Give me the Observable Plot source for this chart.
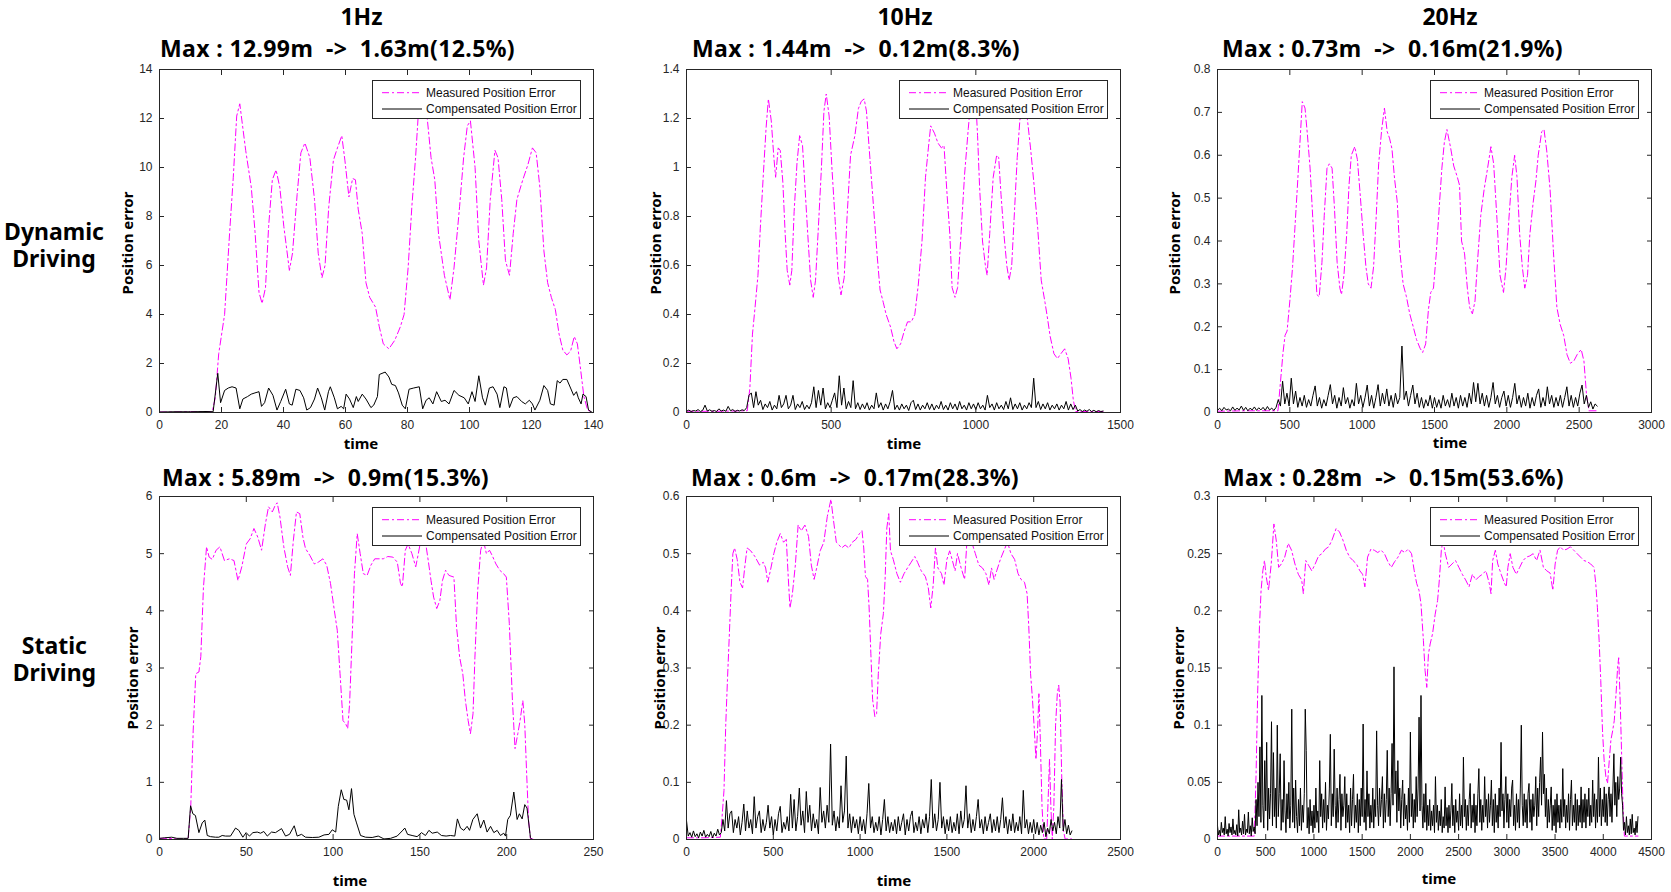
<!DOCTYPE html>
<html><head><meta charset="utf-8">
<script src="https://cdn.jsdelivr.net/npm/d3@7"></script>
<script src="https://cdn.jsdelivr.net/npm/@observablehq/plot@0.6"></script>
<style>
html,body{margin:0;padding:0;background:#fff;}
#root{position:relative;width:1671px;height:892px;overflow:hidden;background:#fff;}
.abs{position:absolute;white-space:pre;line-height:1;}
.big{font-family:"Noto Sans",sans-serif;font-weight:700;font-size:23px;color:#000;}
.rowlab{font-family:"Noto Sans",sans-serif;font-weight:700;font-size:23px;color:#000;line-height:26.6px;text-align:center;}
.axl{font-family:"Noto Sans",sans-serif;font-weight:700;font-size:15px;color:#000;}
.legend{border:1px solid #262626;background:#fff;width:207px;height:37px;}
.lt{position:absolute;left:53px;transform:translateY(-50%);font-family:"Liberation Sans",Arial,sans-serif;font-size:12px;line-height:1;white-space:nowrap;color:#111;}
</style></head>
<body><div id="root"></div>
<script>
// ---------- text ----------
const freqTitles = ["1Hz", "10Hz", "20Hz"];
const rowLabels = ["Dynamic\nDriving", "Static\nDriving"];
const maxTitles = [
  ["Max : 12.99m  ->  1.63m(12.5%)", "Max : 1.44m  ->  0.12m(8.3%)", "Max : 0.73m  ->  0.16m(21.9%)"],
  ["Max : 5.89m  ->  0.9m(15.3%)", "Max : 0.6m  ->  0.17m(28.3%)", "Max : 0.28m  ->  0.15m(53.6%)"]
];
const seriesNames = ["Measured Position Error", "Compensated Position Error"];
const yLabel = "Position error";
const xLabel = "time";

// ---------- ticks ----------
const xTicksDyn1 = [0, 20, 40, 60, 80, 100, 120, 140];
const yTicksDyn1 = [0, 2, 4, 6, 8, 10, 12, 14];
const xTicksDyn10 = [0, 500, 1000, 1500];
const yTicksDyn10 = [0, 0.2, 0.4, 0.6, 0.8, 1, 1.2, 1.4];
const xTicksDyn20 = [0, 500, 1000, 1500, 2000, 2500, 3000];
const yTicksDyn20 = [0, 0.1, 0.2, 0.3, 0.4, 0.5, 0.6, 0.7, 0.8];
const xTicksSta1 = [0, 50, 100, 150, 200, 250];
const yTicksSta1 = [0, 1, 2, 3, 4, 5, 6];
const xTicksSta10 = [0, 500, 1000, 1500, 2000, 2500];
const yTicksSta10 = [0, 0.1, 0.2, 0.3, 0.4, 0.5, 0.6];
const xTicksSta20 = [0, 500, 1000, 1500, 2000, 2500, 3000, 3500, 4000, 4500];
const yTicksSta20 = [0, 0.05, 0.1, 0.15, 0.2, 0.25, 0.3];

// ---------- data: [time, error] ----------
const dyn1Measured = [[0,0.02],[5,0.02],[10,0.03],[17,0.03],[18,0.6],[19.1,2.4],[21,4.0],[22.6,7.3],[23.8,9.6],[24.9,12.1],[25.9,12.6],[27.8,10.7],[29.6,9.2],[30.8,7.4],[32.1,4.9],[33.1,4.45],[34.2,5.1],[35.2,7.6],[36.4,9.5],[37.6,9.9],[38.8,9.2],[40.1,7.6],[41.9,5.8],[42.9,6.5],[44.4,8.9],[45.6,10.6],[46.9,11.0],[48.5,10.4],[50,8.7],[51.2,6.5],[52.4,5.5],[53.4,6.0],[54.6,8.4],[56.1,10.3],[57.4,10.8],[58.8,11.3],[59.8,10.3],[61.1,8.8],[62.3,9.55],[63.2,9.5],[64.1,8.3],[65.4,7.3],[66.6,5.3],[67.8,4.7],[69.7,4.3],[70.9,3.5],[72.2,2.8],[74,2.6],[75.9,2.95],[77.7,3.5],[78.9,4.0],[80.2,5.9],[81.4,8.4],[82.6,10.4],[83.5,12.2],[84.8,12.99],[86.3,12.1],[87.6,10.4],[88.8,9.5],[90,7.3],[91.9,5.6],[93.7,4.6],[95,5.9],[96.8,8.4],[98.1,10.4],[99.3,11.7],[100.3,11.9],[101.8,10.0],[103,7.0],[104.5,5.2],[105.5,5.9],[106.7,8.7],[108.2,10.7],[109.2,10.4],[110.4,8.7],[111.6,6.2],[112.9,5.6],[114.1,7.3],[115.3,8.7],[117.2,9.5],[118.8,10.1],[120.3,10.8],[121.5,10.6],[122.7,9.2],[124,6.6],[125.2,5.3],[126.4,4.7],[127.7,4.2],[128.9,3.2],[130.1,2.55],[131.4,2.35],[132.6,2.5],[133.8,3.1],[134.8,2.8],[135.7,1.9],[136.9,0.65],[138.1,0.1],[139.4,0.02]];
const dyn1Compensated = [[0,0.02],[5,0.03],[10,0.03],[15,0.04],[17.3,0.03],[18.8,1.6],[19.7,0.4],[21,0.9],[22.2,1.0],[23.4,1.05],[24.7,1.0],[25.9,0.15],[26.9,0.55],[28.4,0.65],[29.6,0.75],[30.8,0.8],[32.1,0.85],[32.9,0.25],[33.9,0.4],[35.2,1.0],[36.6,0.7],[37.9,0.1],[39.1,0.45],[40.7,0.95],[41.9,0.35],[42.8,0.3],[44,0.95],[45.3,0.9],[46.5,0.6],[47.5,0.1],[48.7,0.2],[50,0.55],[51,1.0],[52.2,0.6],[53.3,0.1],[54.5,0.85],[55.1,1.05],[56.4,0.6],[57.4,0.15],[58.6,0.25],[59.4,0.15],[60.2,0.75],[61.3,0.55],[62.5,0.2],[63.5,0.65],[64.1,0.45],[65.4,0.75],[66.6,0.55],[68.2,0.2],[69.1,0.3],[70.3,0.65],[70.9,1.55],[72.8,1.65],[74,1.45],[74.9,1.15],[76.1,1.1],[77.1,0.8],[78.3,0.3],[79.3,0.15],[80.5,0.95],[82,1.0],[83.8,1.05],[84.9,0.15],[86,0.5],[87,0.6],[88.2,0.35],[89.4,0.85],[90.9,0.45],[92.1,0.5],[93.4,0.35],[95,0.9],[96.6,0.7],[98.3,0.6],[99.6,0.35],[100.8,0.85],[101.8,0.45],[103,1.5],[104.2,0.6],[105.1,0.3],[106.4,1.0],[107.6,1.05],[108.9,0.75],[109.8,0.2],[111.1,1.05],[111.9,1.0],[112.9,0.2],[114.1,0.6],[115.3,0.65],[116.8,0.45],[118,0.35],[119.3,0.5],[120.3,0.35],[121.1,0.1],[122.7,0.5],[124,1.1],[125.2,0.9],[126.1,0.35],[127.3,0.3],[128.3,1.3],[129.2,1.2],[130.1,1.35],[131.4,1.35],[132.6,1.0],[133.6,0.7],[134.5,0.85],[135.1,0.6],[136,0.35],[136.6,0.75],[137.6,0.65],[138.4,0.1],[139.4,0.02]];

const dyn10Measured = [[0,0.005],[100,0.005],[210,0.007],[219,0.1],[228,0.32],[237,0.43],[247,0.56],[255,0.75],[265,0.96],[275,1.16],[283,1.28],[293,1.19],[302,1.04],[308,0.96],[317,1.08],[324,1.07],[333,0.94],[341,0.73],[348,0.58],[357,0.52],[364,0.58],[372,0.82],[382,1.02],[391,1.13],[401,1.09],[409,0.93],[419,0.73],[429,0.54],[438,0.47],[446,0.54],[456,0.76],[466,0.99],[475,1.23],[483,1.3],[493,1.21],[503,0.99],[514,0.78],[524,0.56],[534,0.48],[545,0.55],[555,0.8],[567,1.05],[582,1.13],[594,1.24],[604,1.27],[614,1.28],[622,1.23],[635,1.02],[647,0.83],[659,0.64],[669,0.5],[680,0.45],[690,0.4],[705,0.35],[717,0.29],[727,0.26],[740,0.28],[752,0.33],[764,0.37],[777,0.37],[789,0.4],[801,0.52],[814,0.7],[826,0.96],[836,1.08],[844,1.17],[857,1.14],[869,1.1],[881,1.08],[890,1.09],[900,0.9],[910,0.73],[918,0.51],[928,0.47],[937,0.51],[949,0.73],[961,0.97],[974,1.16],[983,1.28],[992,1.33],[1000,1.27],[1006,1.13],[1013,0.92],[1023,0.7],[1033,0.6],[1039,0.56],[1048,0.73],[1060,0.96],[1072,1.05],[1079,1.04],[1087,0.89],[1097,0.73],[1107,0.6],[1115,0.54],[1124,0.6],[1134,0.83],[1143,1.04],[1152,1.19],[1165,1.31],[1177,1.21],[1189,1.08],[1202,0.92],[1214,0.75],[1226,0.54],[1239,0.45],[1247,0.39],[1257,0.31],[1270,0.24],[1282,0.22],[1294,0.24],[1307,0.26],[1319,0.22],[1329,0.14],[1337,0.05],[1345,0.004],[1440,0.004]];
const dyn10CompStep = 8;
const dyn10Compensated = [
0.005,0.01,0.004,0.008,0.006,0.012,0.004,0.009,0.03,0.006,0.011,0.005,0.008,0.004,0.015,0.006,0.01,0.005,0.025,0.007,0.012,0.004,0.009,0.006,0.011,
0.008,0.02,0.07,0.08,0.02,0.085,0.03,0.05,0.012,0.035,0.02,0.045,0.01,0.03,0.015,0.07,0.02,0.035,0.07,0.015,0.03,0.07,0.012,0.035,0.02,
0.045,0.012,0.03,0.015,0.04,0.105,0.02,0.09,0.03,0.1,0.015,0.04,0.02,0.05,0.08,0.02,0.15,0.03,0.1,0.015,0.045,0.02,0.13,0.015,0.04,
0.012,0.035,0.015,0.04,0.01,0.03,0.015,0.08,0.02,0.04,0.01,0.035,0.015,0.045,0.09,0.012,0.03,0.01,0.035,0.015,0.03,0.008,0.04,0.05,0.012,
0.035,0.01,0.03,0.015,0.04,0.012,0.035,0.01,0.03,0.015,0.045,0.012,0.03,0.01,0.04,0.015,0.035,0.01,0.045,0.015,0.03,0.01,0.04,0.015,0.035,
0.012,0.04,0.015,0.03,0.01,0.07,0.02,0.035,0.01,0.04,0.015,0.03,0.012,0.045,0.015,0.06,0.012,0.035,0.015,0.04,0.01,0.03,0.015,0.04,0.02,
0.14,0.02,0.045,0.012,0.035,0.015,0.04,0.01,0.03,0.015,0.035,0.01,0.03,0.015,0.045,0.01,0.035,0.012,0.03,0.006,0.012,0.004,0.01,0.005,0.012,
0.004,0.009,0.003,0.008,0.004,0.006];

const dyn20Measured = [[0,0.003],[200,0.004],[418,0.004],[435,0.07],[453,0.14],[467,0.18],[481,0.19],[500,0.26],[519,0.34],[535,0.43],[551,0.52],[570,0.63],[586,0.725],[605,0.71],[621,0.65],[640,0.57],[659,0.45],[675,0.35],[687,0.275],[703,0.27],[722,0.35],[738,0.46],[757,0.57],[773,0.58],[792,0.57],[808,0.48],[827,0.35],[846,0.29],[857,0.275],[874,0.32],[893,0.415],[909,0.53],[925,0.6],[949,0.62],[967,0.59],[986,0.51],[1007,0.415],[1026,0.34],[1042,0.3],[1061,0.29],[1079,0.34],[1096,0.45],[1114,0.58],[1135,0.66],[1154,0.71],[1173,0.655],[1189,0.64],[1206,0.615],[1224,0.545],[1243,0.49],[1259,0.38],[1283,0.3],[1306,0.27],[1329,0.23],[1353,0.2],[1376,0.17],[1400,0.15],[1418,0.14],[1439,0.16],[1458,0.24],[1474,0.28],[1493,0.29],[1512,0.37],[1533,0.48],[1551,0.57],[1568,0.63],[1586,0.66],[1610,0.62],[1633,0.575],[1657,0.55],[1673,0.53],[1687,0.4],[1708,0.37],[1727,0.29],[1743,0.245],[1762,0.23],[1780,0.26],[1797,0.35],[1820,0.46],[1843,0.52],[1867,0.57],[1890,0.62],[1909,0.58],[1932,0.45],[1953,0.32],[1977,0.28],[1995,0.34],[2014,0.45],[2035,0.55],[2054,0.6],[2070,0.55],[2089,0.415],[2107,0.34],[2124,0.29],[2143,0.32],[2159,0.415],[2182,0.49],[2201,0.54],[2217,0.6],[2241,0.655],[2257,0.66],[2276,0.61],[2299,0.52],[2322,0.375],[2346,0.245],[2369,0.205],[2393,0.18],[2416,0.135],[2439,0.115],[2463,0.12],[2486,0.135],[2514,0.147],[2533,0.12],[2551,0.04],[2568,0.004],[2630,0.004]];
const dyn20CompStep = 15;
const dyn20Compensated = [
0.005,0.01,0.004,0.012,0.006,0.008,0.004,0.013,0.005,0.01,0.006,0.015,0.005,0.012,0.004,0.01,0.006,0.013,0.005,0.011,
0.006,0.012,0.005,0.014,0.006,0.01,0.005,0.012,0.03,0.015,0.073,0.02,0.045,0.015,0.08,0.02,0.05,0.012,0.035,0.015,
0.04,0.012,0.03,0.015,0.04,0.062,0.015,0.035,0.01,0.03,0.015,0.04,0.065,0.02,0.04,0.01,0.035,0.015,0.058,0.02,
0.035,0.01,0.03,0.015,0.068,0.02,0.04,0.012,0.035,0.064,0.015,0.04,0.01,0.035,0.065,0.015,0.045,0.02,0.055,0.015,
0.04,0.012,0.045,0.02,0.035,0.155,0.03,0.05,0.015,0.04,0.064,0.02,0.045,0.012,0.035,0.01,0.03,0.015,0.04,0.01,
0.035,0.012,0.03,0.01,0.04,0.015,0.03,0.012,0.045,0.015,0.035,0.01,0.04,0.015,0.035,0.012,0.045,0.02,0.07,0.025,
0.068,0.02,0.045,0.015,0.04,0.012,0.035,0.07,0.02,0.04,0.012,0.035,0.05,0.015,0.04,0.012,0.035,0.068,0.02,0.04,
0.012,0.035,0.015,0.045,0.01,0.035,0.015,0.04,0.055,0.012,0.035,0.015,0.06,0.02,0.04,0.012,0.035,0.015,0.04,0.012,
0.035,0.06,0.015,0.04,0.012,0.035,0.015,0.045,0.064,0.02,0.04,0.012,0.025,0.008,0.02,0.015];

const sta1Measured = [[0,0.02],[5,0.02],[10,0.01],[16.5,0.01],[18,0.57],[19.4,1.9],[20.9,2.9],[22.7,2.93],[23.8,3.2],[25.3,4.4],[27.1,5.12],[28.6,4.94],[30.4,4.9],[32.6,5.06],[34.8,5.12],[37.4,4.88],[40.3,4.91],[42.9,4.88],[45.2,4.53],[47.4,4.77],[50,5.17],[52.2,5.26],[54.4,5.44],[56.6,5.29],[58.8,5.06],[61,5.52],[62.8,5.82],[65,5.73],[66.7,5.85],[67.8,5.89],[69.4,5.64],[71.6,5.12],[73.8,4.77],[75.4,4.62],[77.1,5.23],[78.9,5.73],[80.8,5.7],[82.6,5.29],[84.1,5.09],[86.6,4.97],[89.2,4.82],[91.4,4.85],[94.1,4.91],[96.3,4.8],[98.5,4.48],[100.7,4.01],[102.4,3.66],[104,2.9],[105.7,2.08],[107.3,2.02],[108.4,1.94],[109.5,2.37],[111.2,3.72],[112.3,4.65],[113.9,5.35],[115.6,5.0],[117.4,4.65],[119.6,4.62],[121.8,4.8],[124,4.91],[126.7,4.91],[128.9,4.91],[131.5,4.95],[134.4,4.94],[137,4.85],[138.8,4.48],[139.9,4.42],[141.6,5.06],[143.2,5.17],[145.4,5.0],[147.6,4.77],[149.1,5.0],[150.9,5.3],[153.1,5.23],[154.8,4.88],[156.4,4.53],[157.9,4.24],[159.7,4.04],[161.5,4.18],[163,4.53],[164.8,4.71],[166.7,4.62],[169.6,4.59],[171.1,3.72],[172.9,3.19],[174.7,2.9],[176.2,2.43],[177.8,2.08],[179.1,1.85],[180.6,2.2],[181.7,3.19],[183.3,4.36],[185,5.06],[186.6,5.23],[188.3,5.0],[190.1,5.06],[191.6,4.97],[193.8,4.82],[196,4.71],[198.2,4.65],[199.8,4.59],[201.5,3.78],[203.3,2.43],[204.8,1.59],[206.4,1.85],[207.7,2.08],[209.3,2.43],[210.4,2.02],[211.5,1.15],[212.6,0.33],[213.7,0.01],[215,0.01]];
const sta1Compensated = [[0,0.02],[3,0.03],[7,0.04],[10,0.02],[14,0.02],[16.5,0.02],[17.9,0.59],[19.2,0.45],[20.7,0.42],[22.7,0.12],[24.6,0.29],[26.1,0.34],[27.5,0.07],[29.4,0.05],[32.3,0.04],[34.2,0.04],[36.1,0.07],[38,0.06],[40.9,0.06],[43.8,0.2],[45.7,0.16],[48,0.04],[49.9,0.12],[51.8,0.06],[53.8,0.12],[56.3,0.13],[58.2,0.11],[60.1,0.14],[62.1,0.06],[64.5,0.13],[66.8,0.12],[70.3,0.19],[72.6,0.06],[74.9,0.09],[77.6,0.24],[79.3,0.06],[81.8,0.09],[84.1,0.04],[88,0.035],[91.8,0.04],[94.8,0.08],[97.6,0.09],[99.5,0.17],[101.5,0.13],[103,0.58],[104.7,0.87],[106.2,0.7],[107.8,0.69],[109.1,0.52],[110.6,0.89],[112,0.44],[113.5,0.29],[115.8,0.07],[118.7,0.04],[122.5,0.035],[126,0.06],[129.3,0.01],[133.1,0.02],[136.9,0.06],[139.8,0.15],[141.3,0.2],[142.9,0.09],[145.5,0.07],[148.4,0.05],[150.9,0.12],[153.2,0.07],[155.2,0.16],[157.1,0.11],[160,0.13],[162.4,0.07],[165.1,0.06],[167.6,0.07],[170.1,0.06],[171.6,0.36],[173.4,0.2],[175.3,0.16],[177.2,0.23],[178.6,0.16],[180.5,0.35],[183,0.45],[184.9,0.2],[186.8,0.34],[188.7,0.13],[190.7,0.23],[192.6,0.12],[194.5,0.16],[196.4,0.07],[198.3,0.11],[199.3,0.06],[200.6,0.35],[202.1,0.42],[204.1,0.83],[206,0.35],[207.3,0.45],[208.9,0.36],[210.4,0.61],[211.7,0.55],[213.7,0.03],[214.6,0]];

const sta10Measured = [[0,0.003],[100,0.003],[195,0.004],[205,0.04],[216,0.086],[226,0.2],[236,0.28],[247,0.36],[257,0.435],[267,0.5],[277,0.51],[292,0.49],[308,0.45],[323,0.44],[335,0.475],[349,0.51],[370,0.505],[394,0.495],[421,0.48],[442,0.485],[456,0.475],[468,0.45],[483,0.47],[503,0.5],[520,0.52],[540,0.535],[559,0.52],[575,0.525],[585,0.465],[596,0.405],[610,0.43],[627,0.48],[643,0.55],[661,0.54],[682,0.55],[703,0.53],[719,0.48],[735,0.455],[750,0.475],[770,0.505],[791,0.52],[811,0.565],[832,0.595],[846,0.56],[863,0.52],[879,0.515],[894,0.51],[914,0.515],[935,0.51],[955,0.52],[976,0.525],[996,0.535],[1011,0.54],[1021,0.51],[1031,0.46],[1043,0.455],[1052,0.405],[1062,0.325],[1072,0.245],[1085,0.215],[1095,0.22],[1105,0.29],[1119,0.36],[1134,0.395],[1144,0.455],[1154,0.545],[1165,0.57],[1175,0.505],[1191,0.49],[1212,0.465],[1232,0.45],[1253,0.465],[1273,0.475],[1294,0.485],[1315,0.495],[1331,0.485],[1352,0.47],[1376,0.46],[1393,0.44],[1407,0.405],[1421,0.445],[1434,0.51],[1448,0.475],[1469,0.465],[1483,0.445],[1500,0.49],[1516,0.505],[1530,0.49],[1547,0.47],[1561,0.5],[1582,0.475],[1602,0.455],[1613,0.51],[1623,0.55],[1643,0.52],[1664,0.5],[1684,0.48],[1705,0.475],[1725,0.465],[1742,0.445],[1757,0.475],[1772,0.455],[1787,0.47],[1808,0.49],[1828,0.505],[1849,0.52],[1869,0.5],[1890,0.49],[1910,0.465],[1927,0.455],[1947,0.45],[1962,0.43],[1972,0.37],[1982,0.29],[1993,0.245],[2003,0.195],[2013,0.14],[2023,0.195],[2030,0.255],[2038,0.175],[2048,0.057],[2058,0.001],[2075,0.001],[2085,0.086],[2091,0.14],[2099,0.057],[2107,0.001],[2116,0.057],[2126,0.2],[2136,0.255],[2144,0.27],[2152,0.24],[2161,0.115],[2171,0.016],[2181,0.001],[2218,0.001]];
const sta10CompStep = 10;
const sta10Compensated = [
0.033,0.006,0.012,0.004,0.015,0.005,0.01,0.003,0.013,0.006,0.016,0.004,0.009,0.005,0.014,0.003,0.011,0.006,0.018,0.008,
0.012,0.035,0.015,0.068,0.02,0.045,0.05,0.012,0.035,0.02,0.04,0.008,0.03,0.062,0.015,0.05,0.02,0.035,0.01,0.075,
0.02,0.04,0.05,0.012,0.035,0.015,0.03,0.06,0.02,0.04,0.008,0.035,0.015,0.045,0.058,0.012,0.03,0.018,0.04,0.015,
0.079,0.02,0.07,0.015,0.04,0.09,0.025,0.05,0.012,0.084,0.03,0.06,0.015,0.045,0.02,0.035,0.01,0.091,0.03,0.05,
0.02,0.06,0.03,0.167,0.025,0.05,0.015,0.04,0.02,0.094,0.03,0.05,0.146,0.02,0.045,0.012,0.04,0.02,0.035,0.01,
0.04,0.015,0.035,0.01,0.045,0.098,0.02,0.04,0.012,0.03,0.015,0.04,0.008,0.035,0.07,0.015,0.04,0.012,0.03,0.015,
0.035,0.01,0.04,0.015,0.03,0.045,0.008,0.035,0.015,0.04,0.05,0.012,0.03,0.015,0.04,0.01,0.035,0.02,0.045,0.012,
0.04,0.105,0.02,0.045,0.015,0.035,0.1,0.02,0.04,0.01,0.035,0.015,0.04,0.012,0.03,0.015,0.045,0.01,0.05,0.02,
0.035,0.094,0.02,0.045,0.012,0.035,0.015,0.04,0.07,0.02,0.035,0.01,0.04,0.015,0.03,0.045,0.012,0.035,0.015,0.04,
0.012,0.035,0.073,0.02,0.04,0.01,0.035,0.015,0.045,0.012,0.03,0.015,0.04,0.01,0.086,0.02,0.035,0.01,0.03,0.012,
0.035,0.01,0.03,0.008,0.025,0.012,0.03,0.005,0.02,0.01,0.035,0.015,0.03,0.01,0.04,0.02,0.105,0.015,0.035,0.01,
0.025,0.008,0.015];

const sta20Measured = [[0,0.003],[200,0.003],[382,0.003],[400,0.057],[417,0.13],[435,0.186],[452,0.218],[470,0.235],[487,0.244],[505,0.23],[529,0.218],[557,0.241],[585,0.276],[610,0.261],[634,0.238],[662,0.241],[697,0.247],[733,0.259],[768,0.253],[803,0.241],[838,0.232],[873,0.227],[890,0.215],[915,0.244],[943,0.24],[978,0.235],[1013,0.241],[1048,0.248],[1083,0.25],[1118,0.254],[1153,0.256],[1188,0.262],[1230,0.272],[1265,0.269],[1300,0.262],[1335,0.253],[1370,0.247],[1405,0.244],[1441,0.241],[1476,0.235],[1504,0.232],[1528,0.221],[1556,0.247],[1591,0.254],[1626,0.253],[1661,0.251],[1696,0.253],[1731,0.25],[1767,0.243],[1802,0.238],[1837,0.243],[1872,0.247],[1907,0.253],[1942,0.251],[1977,0.254],[2012,0.25],[2040,0.235],[2065,0.224],[2089,0.218],[2110,0.206],[2135,0.174],[2152,0.148],[2170,0.133],[2187,0.162],[2205,0.171],[2230,0.18],[2257,0.197],[2282,0.209],[2300,0.227],[2321,0.253],[2338,0.262],[2362,0.25],[2397,0.238],[2432,0.241],[2468,0.244],[2503,0.238],[2538,0.232],[2573,0.227],[2608,0.221],[2643,0.232],[2678,0.227],[2713,0.23],[2748,0.232],[2783,0.235],[2818,0.224],[2836,0.215],[2853,0.244],[2881,0.253],[2906,0.241],[2941,0.232],[2976,0.224],[2994,0.221],[3011,0.238],[3035,0.25],[3063,0.238],[3098,0.232],[3133,0.238],[3168,0.244],[3203,0.247],[3238,0.248],[3273,0.25],[3308,0.244],[3344,0.253],[3379,0.238],[3414,0.235],[3449,0.233],[3477,0.218],[3501,0.241],[3526,0.253],[3554,0.256],[3589,0.253],[3624,0.254],[3659,0.256],[3694,0.253],[3729,0.25],[3764,0.247],[3799,0.244],[3834,0.243],[3869,0.241],[3904,0.238],[3922,0.224],[3939,0.203],[3957,0.174],[3974,0.139],[3992,0.095],[4009,0.069],[4027,0.055],[4044,0.049],[4062,0.069],[4079,0.087],[4097,0.095],[4114,0.104],[4132,0.127],[4149,0.151],[4160,0.159],[4177,0.116],[4191,0.072],[4205,0.028],[4219,0.003],[4360,0.003]];
const sta20CompStep = 10;
const sta20Compensated = [
0.012,0.004,0.008,0.003,0.015,0.006,0.01,0.004,0.02,0.005,0.009,0.003,0.014,0.006,0.011,0.004,0.018,0.005,0.008,0.004,
0.013,0.003,0.026,0.006,0.01,0.004,0.016,0.005,0.022,0.004,0.009,0.006,0.024,0.005,0.012,0.003,0.019,0.007,0.011,0.005,
0.035,0.012,0.05,0.02,0.081,0.015,0.126,0.03,0.01,0.069,0.025,0.085,0.008,0.045,0.018,0.04,0.103,0.012,0.076,0.02,
0.045,0.01,0.1,0.02,0.04,0.075,0.008,0.035,0.015,0.069,0.025,0.006,0.04,0.018,0.05,0.01,0.03,0.114,0.015,0.045,
0.01,0.052,0.02,0.006,0.035,0.012,0.045,0.008,0.03,0.015,0.04,0.114,0.078,0.01,0.028,0.005,0.035,0.012,0.025,0.006,
0.03,0.01,0.045,0.015,0.025,0.006,0.069,0.02,0.04,0.01,0.035,0.015,0.05,0.008,0.03,0.018,0.045,0.092,0.012,0.04,
0.02,0.079,0.03,0.01,0.045,0.015,0.035,0.057,0.008,0.04,0.02,0.03,0.055,0.01,0.04,0.015,0.03,0.006,0.045,0.012,
0.035,0.057,0.01,0.03,0.015,0.04,0.006,0.035,0.012,0.045,0.02,0.101,0.015,0.035,0.008,0.06,0.02,0.04,0.01,0.03,
0.015,0.045,0.01,0.035,0.02,0.095,0.03,0.012,0.045,0.02,0.035,0.055,0.01,0.04,0.015,0.035,0.078,0.02,0.045,0.012,
0.04,0.084,0.03,0.151,0.04,0.06,0.015,0.069,0.025,0.045,0.01,0.035,0.052,0.012,0.04,0.018,0.03,0.008,0.045,0.015,
0.094,0.02,0.04,0.01,0.035,0.015,0.055,0.02,0.045,0.107,0.025,0.126,0.03,0.01,0.04,0.015,0.049,0.008,0.03,0.012,
0.035,0.008,0.025,0.012,0.03,0.006,0.055,0.015,0.03,0.008,0.025,0.012,0.035,0.006,0.02,0.01,0.046,0.012,0.028,0.006,
0.03,0.01,0.025,0.049,0.012,0.03,0.006,0.035,0.015,0.025,0.008,0.04,0.012,0.03,0.01,0.072,0.02,0.035,0.008,0.03,
0.012,0.035,0.049,0.01,0.03,0.015,0.04,0.006,0.03,0.012,0.04,0.062,0.015,0.035,0.008,0.03,0.015,0.055,0.02,0.035,
0.01,0.04,0.015,0.03,0.052,0.012,0.035,0.006,0.04,0.015,0.03,0.01,0.045,0.02,0.085,0.025,0.04,0.01,0.035,0.055,
0.015,0.04,0.01,0.035,0.02,0.045,0.052,0.012,0.03,0.008,0.04,0.015,0.035,0.01,0.045,0.1,0.03,0.012,0.04,0.015,
0.035,0.01,0.04,0.049,0.015,0.035,0.008,0.04,0.02,0.03,0.055,0.012,0.045,0.02,0.05,0.072,0.03,0.094,0.04,0.057,
0.02,0.045,0.01,0.035,0.015,0.03,0.046,0.008,0.03,0.012,0.035,0.006,0.04,0.015,0.03,0.01,0.035,0.015,0.062,0.02,
0.035,0.01,0.03,0.015,0.04,0.008,0.035,0.052,0.012,0.03,0.015,0.04,0.008,0.035,0.012,0.03,0.015,0.046,0.01,0.035,
0.015,0.04,0.01,0.035,0.02,0.045,0.012,0.03,0.015,0.052,0.02,0.04,0.01,0.035,0.015,0.072,0.02,0.045,0.012,0.035,
0.02,0.046,0.015,0.04,0.012,0.035,0.046,0.02,0.04,0.015,0.045,0.075,0.03,0.05,0.02,0.055,0.035,0.045,0.072,0.04,
0.03,0.008,0.015,0.004,0.02,0.006,0.012,0.004,0.018,0.005,0.022,0.006,0.01,0.004,0.016,0.006,0.02];

// ---------- build ----------
const sampled = (vals, step) => vals.map((v, i) => [i * step, v]);

const panels = [
  {row:0, col:0, measured: dyn1Measured, compensated: dyn1Compensated, xDomain:[0,140], xTicks: xTicksDyn1, yDomain:[0,14], yTicks: yTicksDyn1},
  {row:0, col:1, measured: dyn10Measured, compensated: sampled(dyn10Compensated, dyn10CompStep), xDomain:[0,1500], xTicks: xTicksDyn10, yDomain:[0,1.4], yTicks: yTicksDyn10},
  {row:0, col:2, measured: dyn20Measured, compensated: sampled(dyn20Compensated, dyn20CompStep), xDomain:[0,3000], xTicks: xTicksDyn20, yDomain:[0,0.8], yTicks: yTicksDyn20},
  {row:1, col:0, measured: sta1Measured, compensated: sta1Compensated, xDomain:[0,250], xTicks: xTicksSta1, yDomain:[0,6], yTicks: yTicksSta1},
  {row:1, col:1, measured: sta10Measured, compensated: sampled(sta10Compensated, sta10CompStep), xDomain:[0,2500], xTicks: xTicksSta10, yDomain:[0,0.6], yTicks: yTicksSta10},
  {row:1, col:2, measured: sta20Measured, compensated: sampled(sta20Compensated, sta20CompStep), xDomain:[0,4500], xTicks: xTicksSta20, yDomain:[0,0.3], yTicks: yTicksSta20}
];

// layout
const FW = 434, FH = 343;
const colLeft = [159, 686, 1217];
const rowTop = [69, 496];
const ML = 50, MR = 30, MT = 10, MB = 30;

const root = document.getElementById("root");
const fmt = d => String(d);

for (const p of panels) {
  const chart = Plot.plot({
    width: FW + ML + MR, height: FH + MT + MB,
    marginLeft: ML, marginRight: MR, marginTop: MT, marginBottom: MB,
    style: {fontFamily: "'Liberation Sans', Arial, sans-serif", fontSize: "12px", color: "#262626", background: "transparent", overflow: "visible"},
    x: {domain: p.xDomain},
    y: {domain: p.yDomain},
    marks: [
      Plot.line(p.measured, {x: d => d[0], y: d => d[1], stroke: "#ff00ff", strokeWidth: 1, strokeDasharray: "7,3,2,3"}),
      Plot.line(p.compensated, {x: d => d[0], y: d => d[1], stroke: "#000000", strokeWidth: 1}),
      Plot.frame({stroke: "#262626", strokeWidth: 1}),
      Plot.axisX({anchor: "bottom", ticks: p.xTicks, tickSize: -5, tickPadding: 13, tickFormat: fmt, label: null}),
      Plot.axisX({anchor: "top", ticks: p.xTicks, tickSize: -5, tickFormat: () => "", label: null}),
      Plot.axisY({anchor: "left", ticks: p.yTicks, tickSize: -5, tickPadding: 12, tickFormat: fmt, label: null}),
      Plot.axisY({anchor: "right", ticks: p.yTicks, tickSize: -5, tickFormat: () => "", label: null})
    ]
  });
  chart.style.position = "absolute";
  chart.style.left = (colLeft[p.col] - ML) + "px";
  chart.style.top = (rowTop[p.row] - MT) + "px";
  chart.style.maxWidth = "none";
  root.appendChild(chart);
}

function addText(txt, x, y, cls, mode, targetW) {
  const el = document.createElement("div");
  el.className = "abs " + cls;
  el.textContent = txt;
  el.style.left = x + "px";
  el.style.top = y + "px";
  el.style.transform = mode === "rot" ? "translate(-50%,-50%) rotate(-90deg)" :
                       mode === "start" ? "translate(0,-50%)" : "translate(-50%,-50%)";
  root.appendChild(el);
  if (targetW) {
    const w = el.getBoundingClientRect().width;
    el.style.letterSpacing = ((targetW - w) / txt.length) + "px";
  }
  return el;
}

// legends
for (const p of panels) {
  const lx = colLeft[p.col] + FW - 12 - 209;
  const ly = rowTop[p.row] + 11;
  const box = document.createElement("div");
  box.className = "abs legend";
  box.style.left = lx + "px";
  box.style.top = ly + "px";
  box.innerHTML = `<svg width="207" height="37" style="position:absolute;left:0;top:0">
    <line x1="9" x2="49" y1="11.7" y2="11.7" stroke="#ff00ff" stroke-width="1" stroke-dasharray="7,3,2,3"/>
    <line x1="9" x2="49" y1="28" y2="28" stroke="#000" stroke-width="1"/></svg>
    <div class="lt" style="top:11.7px">${seriesNames[0]}</div>
    <div class="lt" style="top:28px">${seriesNames[1]}</div>`;
  root.appendChild(box);
}

// frequency titles
const freqX = [361.5, 905, 1450];
freqTitles.forEach((t, i) => addText(t, freqX[i], 16, "big", "center"));

// max titles
const maxX = [[160, 692, 1222], [162, 691, 1223]];
const maxY = [48.3, 476.7];
const maxW = [[355, 328, 341], [327, 328, 341]];
maxTitles.forEach((row, r) => row.forEach((t, c) => addText(t, maxX[r][c], maxY[r], "big", "start", maxW[r][c])));

// row labels
addText(rowLabels[0], 54, 245, "rowlab", "center");
addText(rowLabels[1], 54.4, 659, "rowlab", "center");

// axis titles
const yLabX = [[127.4, 655.4, 1173.9], [132, 659, 1178]];
const yLabY = [243, 677.5];
const xLabX = [[361, 904, 1450], [350, 894, 1439]];
const xLabY = [[443.3, 443, 441.7], [880, 880, 877.7]];
for (let r = 0; r < 2; r++) for (let c = 0; c < 3; c++) {
  addText(yLabel, yLabX[r][c], yLabY[r], "axl", "rot");
  addText(xLabel, xLabX[r][c], xLabY[r][c], "axl", "center");
}
</script>
</body></html>
